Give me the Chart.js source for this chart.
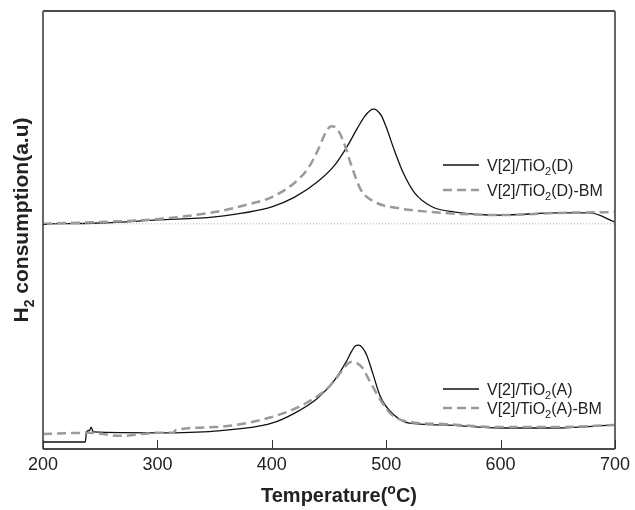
<!DOCTYPE html>
<html>
<head>
<meta charset="utf-8">
<script src="https://cdn.jsdelivr.net/npm/chart.js@4"></script>
<style>
  html, body { margin: 0; padding: 0; background: #fff; }
</style>
</head>
<body>
<canvas id="tprChart" width="635" height="510"></canvas>
<script>
const FONT = '"Liberation Sans", Arial, sans-serif';

// x axis: temperature (ºC)
const xTicks = [200, 300, 400, 500, 600, 700];

// upper pair, V[2]/TiO2(D)
const upperTempD = [200, 250, 300, 350, 400, 420, 440, 455, 465, 475, 481, 486, 489, 492, 496, 500, 507, 515, 525, 540, 560, 600, 650, 678, 700];
const upperValD  = [51.4, 51.6, 52.3, 53.0, 55.3, 57.5, 61.0, 64.8, 68.7, 73.3, 75.9, 77.3, 77.6, 77.3, 76.0, 73.5, 68.3, 63.0, 58.4, 55.3, 54.1, 53.4, 53.9, 53.9, 51.8];
const upperTempBM = [200, 300, 350, 380, 400, 420, 432, 441, 447, 452, 456, 460, 464, 470, 478, 490, 510, 540, 600, 650, 700];
const upperValBM  = [51.4, 52.5, 54.1, 55.9, 57.5, 60.8, 64.2, 68.6, 72.2, 73.7, 73.4, 71.8, 69.2, 64.4, 59.1, 56.4, 55.0, 54.1, 53.4, 53.9, 54.1];
const upperBase = 51.4;

// lower pair, V[2]/TiO2(A)
const lowerTempA = [200, 237, 238, 241, 242, 244, 300, 350, 400, 420, 440, 455, 465, 470, 473, 476, 479, 483, 488, 495, 505, 520, 550, 600, 650, 700];
const lowerValA  = [1.6, 1.6, 3.9, 4.3, 5.0, 3.9, 3.7, 4.1, 5.9, 8.2, 11.6, 15.8, 19.9, 22.4, 23.5, 23.7, 23.2, 21.4, 17.5, 11.9, 8.2, 5.9, 5.5, 4.8, 4.8, 5.5];
const lowerTempBM = [200, 240, 268, 300, 314, 316, 350, 400, 430, 450, 460, 466, 470, 474, 479, 485, 495, 505, 520, 550, 600, 650, 700];
const lowerValBM  = [3.4, 3.7, 3.0, 3.7, 3.7, 4.3, 5.0, 7.3, 10.5, 14.2, 17.4, 19.4, 19.9, 19.7, 18.6, 15.8, 11.2, 7.8, 6.2, 5.7, 5.0, 5.0, 5.5];

const SOLID = '#111';
const DASHED = '#9a9a9a';
const DASH = [9, 5];

function toPoints(xs, ys) {
  return xs.map((x, i) => ({ x: x, y: ys[i] }));
}

// text pieces: [text, 'sub' | 'sup' | undefined]
function piecesWidth(ctx, pieces, size, bold) {
  let w = 0;
  pieces.forEach(([txt, kind]) => {
    const s = kind ? Math.round(size * 0.68) : size;
    ctx.font = `${bold ? 'bold ' : ''}${s}px ${FONT}`;
    w += ctx.measureText(txt).width;
  });
  return w;
}

function drawPieces(ctx, x, y, pieces, size, bold) {
  let cx = x;
  pieces.forEach(([txt, kind]) => {
    const s = kind ? Math.round(size * 0.68) : size;
    ctx.font = `${bold ? 'bold ' : ''}${s}px ${FONT}`;
    let dy = 0;
    if (kind === 'sub') dy = size * 0.28;
    if (kind === 'sup') dy = -size * 0.42;
    ctx.fillText(txt, cx, y + dy);
    cx += ctx.measureText(txt).width;
  });
}

const legendItems = [
  { y: 165, dashed: false, pieces: [['V[2]/TiO'], ['2', 'sub'], ['(D)']] },
  { y: 190, dashed: true,  pieces: [['V[2]/TiO'], ['2', 'sub'], ['(D)-BM']] },
  { y: 389, dashed: false, pieces: [['V[2]/TiO'], ['2', 'sub'], ['(A)']] },
  { y: 408, dashed: true,  pieces: [['V[2]/TiO'], ['2', 'sub'], ['(A)-BM']] }
];

const framePlugin = {
  id: 'frame',
  afterDatasetsDraw(chart) {
    const { ctx, chartArea: a, scales } = chart;
    ctx.save();

    // box
    ctx.lineWidth = 1.5;
    ctx.strokeStyle = '#111';
    ctx.beginPath();
    ctx.moveTo(a.left, a.top); ctx.lineTo(a.right, a.top);
    ctx.moveTo(a.left, a.bottom); ctx.lineTo(a.right, a.bottom);
    ctx.stroke();
    ctx.lineWidth = 2;
    ctx.strokeStyle = '#666';
    ctx.beginPath();
    ctx.moveTo(a.left, a.top); ctx.lineTo(a.left, a.bottom);
    ctx.moveTo(a.right, a.top); ctx.lineTo(a.right, a.bottom);
    ctx.stroke();

    // inward ticks
    ctx.lineWidth = 1;
    ctx.strokeStyle = '#333';
    ctx.beginPath();
    xTicks.forEach(t => {
      const px = Math.round(scales.x.getPixelForValue(t)) + 0.5;
      ctx.moveTo(px, a.bottom); ctx.lineTo(px, a.bottom - 9);
    });
    const by = Math.round(scales.y.getPixelForValue(upperBase)) + 0.5;
    ctx.moveTo(a.left, by); ctx.lineTo(a.left + 4, by);
    ctx.stroke();

    // legends
    ctx.fillStyle = '#222';
    ctx.textBaseline = 'alphabetic';
    legendItems.forEach(item => {
      ctx.beginPath();
      if (item.dashed) {
        ctx.setLineDash(DASH);
        ctx.strokeStyle = DASHED;
        ctx.lineWidth = 2.5;
      } else {
        ctx.setLineDash([]);
        ctx.strokeStyle = SOLID;
        ctx.lineWidth = 1.3;
      }
      ctx.moveTo(443, item.y); ctx.lineTo(479, item.y);
      ctx.stroke();
      ctx.setLineDash([]);
      drawPieces(ctx, 487, item.y + 5.5, item.pieces, 16, false);
    });

    // axis titles
    const xt = [['Temperature('], ['o', 'sup'], ['C)']];
    const xw = piecesWidth(ctx, xt, 20, true);
    drawPieces(ctx, 339 - xw / 2, 502, xt, 20, true);

    const yt = [['H'], ['2', 'sub'], [' consumption(a.u)']];
    const yw = piecesWidth(ctx, yt, 21, true);
    ctx.translate(28, 220);
    ctx.rotate(-Math.PI / 2);
    drawPieces(ctx, -yw / 2, 0, yt, 21, true);

    ctx.restore();
  }
};

new Chart(document.getElementById('tprChart'), {
  type: 'line',
  data: {
    datasets: [
      { label: 'baseline', data: toPoints([200, 700], [upperBase, upperBase]), borderColor: '#aaa', borderWidth: 1, borderDash: [1, 2], tension: 0 },
      { label: 'V[2]/TiO2(D)-BM', data: toPoints(upperTempBM, upperValBM), borderColor: DASHED, borderWidth: 2.5, borderDash: DASH },
      { label: 'V[2]/TiO2(D)', data: toPoints(upperTempD, upperValD), borderColor: SOLID, borderWidth: 1.3 },
      { label: 'V[2]/TiO2(A)-BM', data: toPoints(lowerTempBM, lowerValBM), borderColor: DASHED, borderWidth: 2.5, borderDash: DASH },
      { label: 'V[2]/TiO2(A)', data: toPoints(lowerTempA, lowerValA), borderColor: SOLID, borderWidth: 1.3 }
    ]
  },
  options: {
    responsive: false,
    animation: false,
    layout: { padding: { top: 11, right: 19, left: 0, bottom: 0 } },
    plugins: { legend: { display: false }, tooltip: { enabled: false } },
    elements: {
      point: { radius: 0 },
      line: { cubicInterpolationMode: 'monotone', fill: false }
    },
    scales: {
      x: {
        type: 'linear',
        min: 200,
        max: 700,
        afterBuildTicks: s => { s.ticks = xTicks.map(v => ({ value: v })); },
        ticks: { padding: 5, color: '#222', font: { size: 18, family: FONT } },
        grid: { display: false, drawTicks: false },
        border: { display: false },
        afterFit: s => { s.height = 61; }
      },
      y: {
        min: 0,
        max: 100,
        ticks: { display: false },
        grid: { display: false, drawTicks: false },
        border: { display: false },
        afterFit: s => { s.width = 43; }
      }
    }
  },
  plugins: [framePlugin]
});
</script>
</body>
</html>
